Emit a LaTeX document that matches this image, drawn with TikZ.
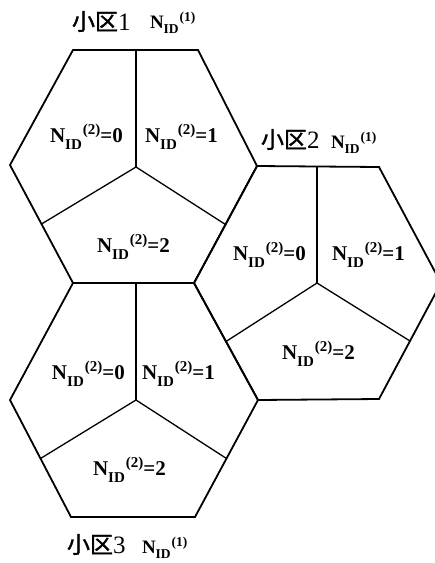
\documentclass[tikz,border=0pt]{standalone}
\usepackage{fontspec}
\newfontfamily\lbl{Liberation Serif}
\newfontfamily\cjk[FakeBold=1.5]{Noto Sans CJK SC}
\usetikzlibrary{calc}
\newcommand\nidlab[1]{{\lbl\bfseries\fontsize{21}{21}\selectfont N\raisebox{-7.5pt}{\fontsize{15}{15}\selectfont ID}\kern1pt\raisebox{7.5pt}{\fontsize{15}{15}\selectfont (2)}=#1}}
\newcommand\titlenid{{\lbl\bfseries\fontsize{19}{19}\selectfont N\raisebox{-5.5pt}{\fontsize{13.5}{13.5}\selectfont ID}\kern1pt\raisebox{6.5pt}{\fontsize{13.5}{13.5}\selectfont (1)}}}
\newcommand\celltitle[1]{{\cjk\fontsize{23}{23}\selectfont 小区}{\lbl\fontsize{25}{25}\selectfont #1}}
\begin{document}
\begin{tikzpicture}[x=1pt,y=-1pt,
  outer/.style={line width=1.8pt, line join=miter},
  innerln/.style={line width=1.3pt},
  lab/.style={anchor=base west, inner sep=0pt, outer sep=0pt}]
\useasboundingbox (0,0) rectangle (435,563);
\clip (0,0) rectangle (435,563);
% hex 1
\coordinate (h1L) at (10,165);
\coordinate (h1TL) at (73,50);
\coordinate (h1TR) at (198,50);
\coordinate (h1R) at (257,166);
\coordinate (h1BR) at (194,283);
\coordinate (h1BL) at (73,283);
\coordinate (h1C) at (136,167);
% hex 2
\coordinate (h2TR) at (379,167);
\coordinate (h2R) at (441,283);
\coordinate (h2BR) at (379,399);
\coordinate (h2BL) at (258,400);
\coordinate (h2C) at (317,283);
% hex 3
\coordinate (h3BR) at (195,517);
\coordinate (h3BL) at (71,517);
\coordinate (h3L) at (10,400);
\coordinate (h3C) at (136,400);
% outlines
\draw[outer] (h1L) -- (h1TL) -- (h1TR) -- (h1R) -- (h1BR) -- (h1BL) -- cycle;
\draw[outer] (h1BR) -- (h1R) -- (h2TR) -- (h2R) -- (h2BR) -- (h2BL) -- cycle;
\draw[outer] (h1BL) -- (h1BR) -- (h2BL) -- (h3BR) -- (h3BL) -- (h3L) -- cycle;
% inner lines
\draw[innerln] (h1C) -- (h1C |- h1TL);
\draw[innerln] (h1C) -- ($(h1L)!0.5!(h1BL)$);
\draw[innerln] (h1C) -- ($(h1R)!0.5!(h1BR)$);
\draw[innerln] (h2C) -- (h2C |- h2TR);
\draw[innerln] (h2C) -- ($(h1BR)!0.5!(h2BL)$);
\draw[innerln] (h2C) -- ($(h2R)!0.5!(h2BR)$);
\draw[innerln] (h3C) -- (h3C |- h1BL);
\draw[innerln] (h3C) -- ($(h3L)!0.5!(h3BL)$);
\draw[innerln] (h3C) -- ($(h2BL)!0.5!(h3BR)$);
% cell labels
\node[lab] (l10) at (50,142) {\nidlab{0}};
\node[lab] (l11) at (145,142) {\nidlab{1}};
\node[lab] (l12) at (97,252) {\nidlab{2}};
\node[lab] (l20) at (233,260) {\nidlab{0}};
\node[lab] (l21) at (332,260) {\nidlab{1}};
\node[lab] (l22) at (282,359) {\nidlab{2}};
\node[lab] (l30) at (52,379) {\nidlab{0}};
\node[lab] (l31) at (142,379) {\nidlab{1}};
\node[lab] (l32) at (93,475) {\nidlab{2}};
% titles
\node[lab] (t1) at (72,30) {\celltitle{1}};
\node[lab] (t1n) at (150,28) {\titlenid};
\node[lab] (t2) at (261,148) {\celltitle{2}};
\node[lab] (t2n) at (331,148) {\titlenid};
\node[lab] (t3) at (67,553) {\celltitle{3}};
\node[lab] (t3n) at (142,553) {\titlenid};
\end{tikzpicture}
\end{document}
